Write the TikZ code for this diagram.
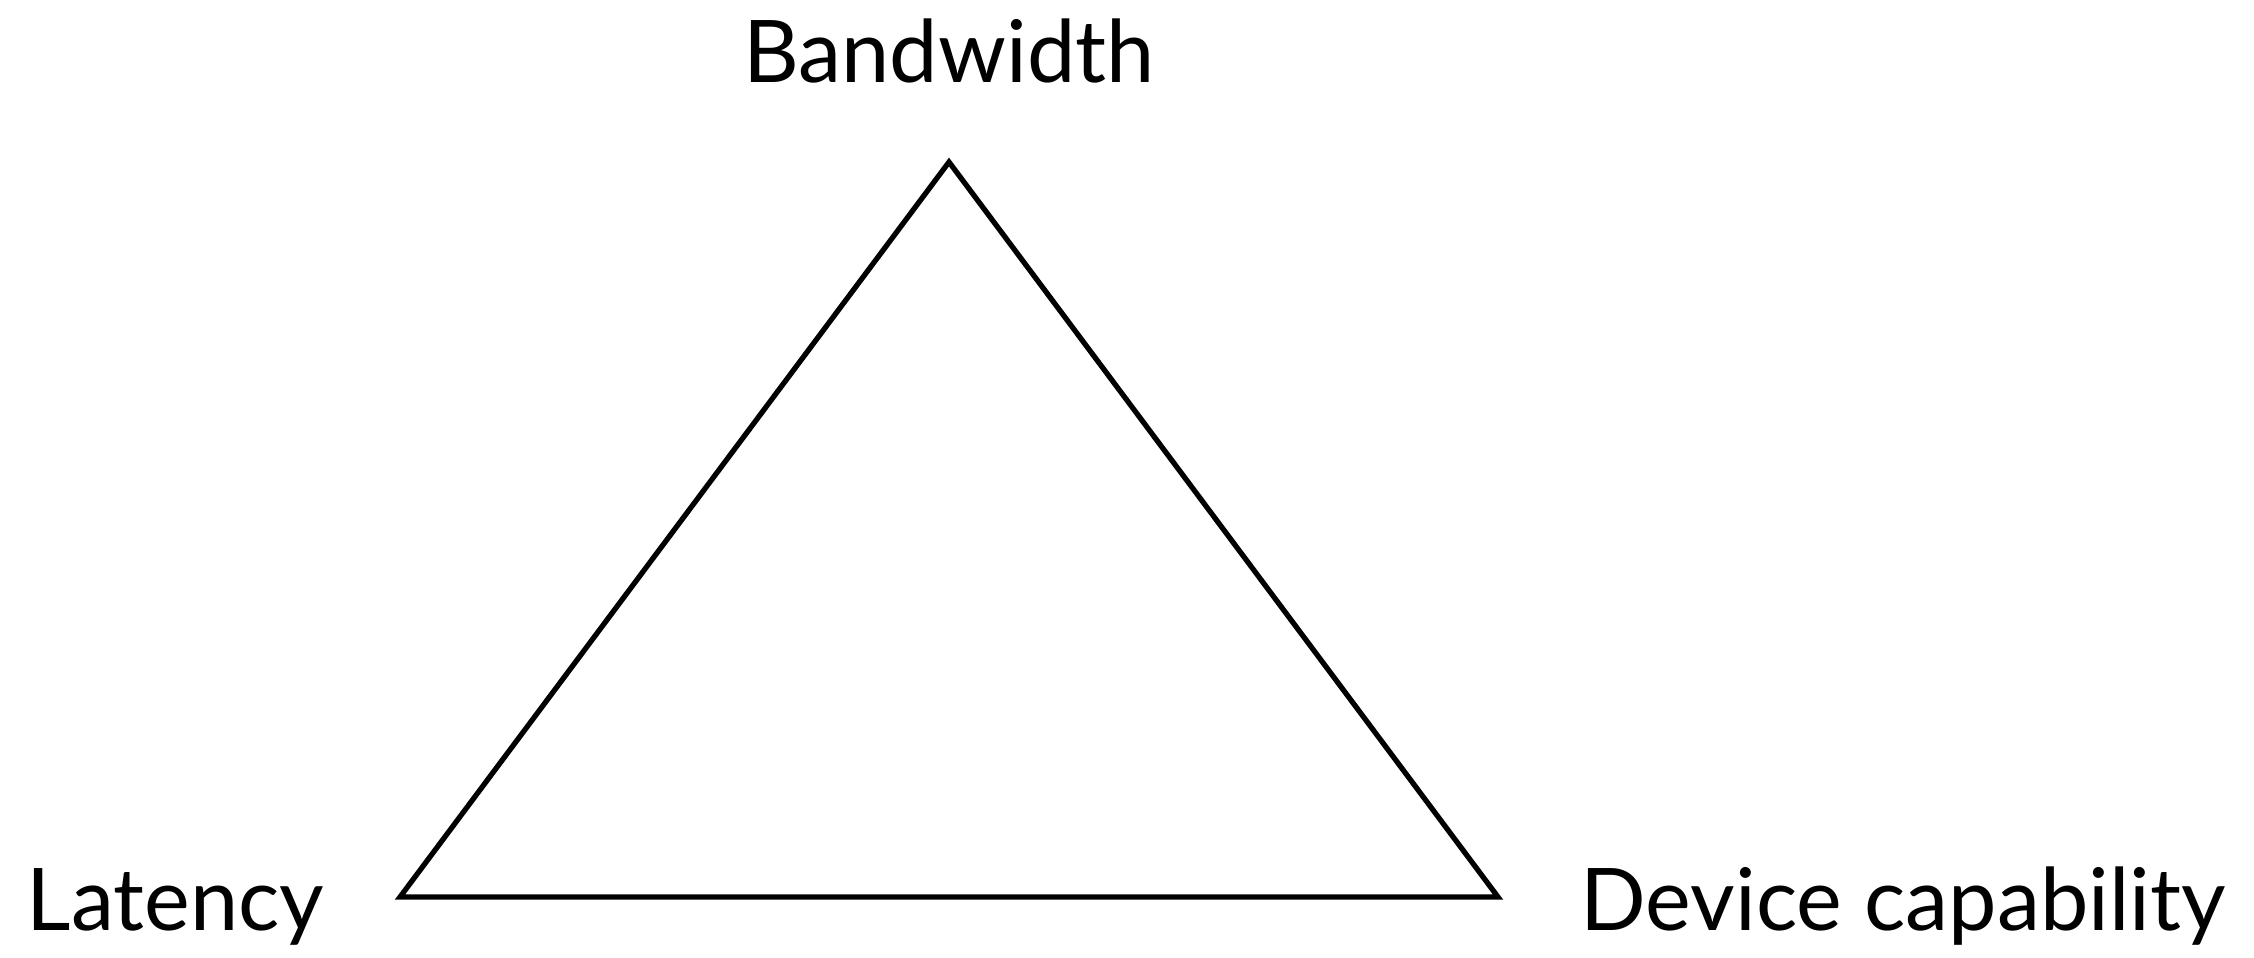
\documentclass[tikz,border=0pt]{standalone}
\usepackage{fontspec}
\setmainfont{Lato}
\usetikzlibrary{positioning}

\begin{document}
\begin{tikzpicture}[
    lbl/.style={inner sep=0pt,font=\fontsize{24.6}{30}\selectfont},
    edge/.style={line width=1.5pt,black,line join=miter}]
    \useasboundingbox (0,0) rectangle (22.54,9.57);
    \coordinate (bw) at (9.49,7.95);
    \coordinate (lat) at (4.00,0.60);
    \coordinate (dev) at (14.98,0.60);
    \draw[edge] (bw)--(dev)--(lat)--cycle;
    \node[lbl,anchor=base] (bwl) at (9.49,8.75) {Bandwidth};
    \node[lbl,anchor=base west] (latl) at (0.26,0.27) {Latency};
    \node[lbl,anchor=base west] (devl) at (15.80,0.27) {Device capability};
\end{tikzpicture}
\end{document}
